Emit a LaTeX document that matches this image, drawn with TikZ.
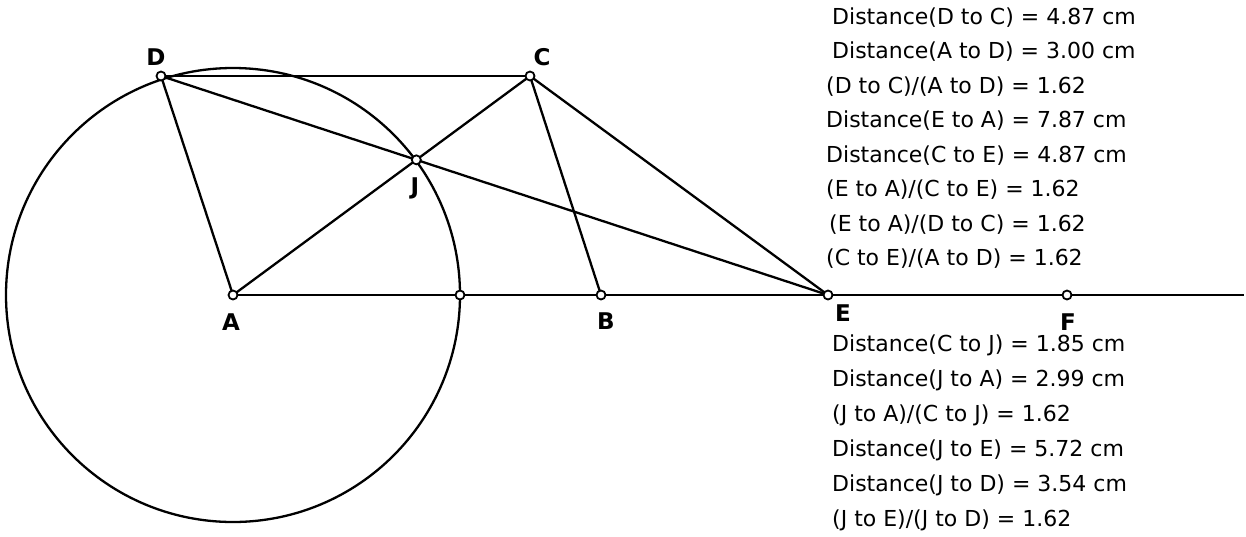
\documentclass[tikz,border=0pt]{standalone}
\usepackage{fontspec}
\setmainfont{DejaVu Sans}
\usetikzlibrary{positioning}

\begin{document}
\begin{tikzpicture}[
    x=1pt, y=-1pt,
    seg/.style={line width=2.3pt, draw=black},
    pnt/.style={circle, draw=black, fill=white, line width=1.8pt, inner sep=0pt, minimum size=9pt},
    lbl/.style={font=\fontsize{23}{26}\selectfont\bfseries, inner sep=0pt},
    dist/.style={font=\fontsize{22}{26}\selectfont, anchor=base west, inner sep=0pt}
]
\useasboundingbox (0,0) rectangle (1246,536);
\coordinate (A) at (233,295);
\coordinate (B) at (601,295);
\coordinate (E) at (828,295);
\coordinate (F) at (1067,295);
\coordinate (D) at (161,76);
\coordinate (C) at (530,76);
\coordinate (G) at (460,295);
\coordinate (ray) at (1244,295);
\coordinate (J) at (intersection of A--C and D--E);

\draw[seg] (A) circle[radius=227pt];
\draw[seg] (A) -- (ray);
\draw[seg] (D) -- (C);
\draw[seg] (D) -- (A);
\draw[seg] (D) -- (E);
\draw[seg] (A) -- (C);
\draw[seg] (C) -- (B);
\draw[seg] (C) -- (E);

\node[pnt] (pA) at (A) {};
\node[pnt] (pB) at (B) {};
\node[pnt] (pC) at (C) {};
\node[pnt] (pD) at (D) {};
\node[pnt] (pE) at (E) {};
\node[pnt] (pF) at (F) {};
\node[pnt] (pG) at (G) {};
\node[pnt] (pJ) at (J) {};

\node[lbl] (labD) at (156,57) {D};
\node[lbl] (labC) at (542,57) {C};
\node[lbl] (labJ) at (415,188) {J};
\node[lbl] (labA) at (231,322) {A};
\node[lbl] (labB) at (606,321) {B};
\node[lbl] (labE) at (843,313) {E};
\node[lbl] (labF) at (1068,322) {F};

\node[dist] (t1) at (832,24) {Distance(D to C) = 4.87 cm};
\node[dist] (t2) at (832,58) {Distance(A to D) = 3.00 cm};
\node[dist] (t3) at (826,93) {(D to C)/(A to D) = 1.62};
\node[dist] (t4) at (826,127) {Distance(E to A) = 7.87 cm};
\node[dist] (t5) at (826,162) {Distance(C to E) = 4.87 cm};
\node[dist] (t6) at (826,196) {(E to A)/(C to E) = 1.62};
\node[dist] (t7) at (829,231) {(E to A)/(D to C) = 1.62};
\node[dist] (t8) at (826,265) {(C to E)/(A to D) = 1.62};

\node[dist] (b1) at (832,351) {Distance(C to J) = 1.85 cm};
\node[dist] (b2) at (832,386) {Distance(J to A) = 2.99 cm};
\node[dist] (b3) at (832,421) {(J to A)/(C to J) = 1.62};
\node[dist] (b4) at (832,456) {Distance(J to E) = 5.72 cm};
\node[dist] (b5) at (832,491) {Distance(J to D) = 3.54 cm};
\node[dist] (b6) at (832,526) {(J to E)/(J to D) = 1.62};
\end{tikzpicture}
\end{document}
